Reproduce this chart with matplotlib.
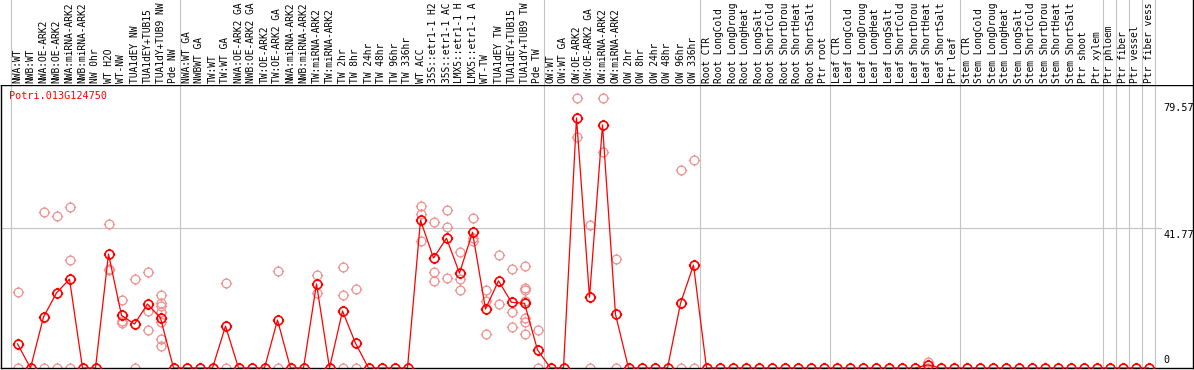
import numpy as np
import matplotlib.pyplot as plt
from matplotlib.path import Path

gene = "Potri.013G124750"

labels = [
    "NWA:WT", "NWB:WT", "NWA:OE-ARK2", "NWB:OE-ARK2", "NWA:miRNA-ARK2", "NWB:miRNA-ARK2",
    "NW 0hr", "WT H2O", "WT-NW", "TUA1dEY NW", "TUA1dEY+TUB15 NW", "TUA1dY+TUB9 NW", "Pde NW",
    "NWA:WT GA", "NWBWT GA", "TW:WT", "TW:WT GA", "NWA:OE-ARK2 GA", "NWB:OE-ARK2 GA",
    "TW:OE-ARK2", "TW:OE-ARK2 GA", "NWA:miRNA-ARK2 GA", "NWB:miRNA-ARK2 GA", "TW:miRNA-ARK2",
    "TW:miRNA-ARK2 GA", "TW 2hr", "TW 8hr", "TW 24hr", "TW 48hr", "TW 96hr", "TW 336hr",
    "WT ACC", "35S::etr1-1 H2O", "35S::etr1-1 ACC", "LMX5::etr1-1 H2O", "LMX5::etr1-1 ACC",
    "WT-TW", "TUA1dEY TW", "TUA1dEY+TUB15 TW", "TUA1dY+TUB9 TW", "Pde TW",
    "OW:WT", "OW:WT GA", "OW:OE-ARK2", "OW:OE-ARK2 GA", "OW:miRNA-ARK2", "OW:miRNA-ARK2 GA",
    "OW 2hr", "OW 8hr", "OW 24hr", "OW 48hr", "OW 96hr", "OW 336hr",
    "Root CTR", "Root LongCold", "Root LongDrought", "Root LongHeat", "Root LongSalt",
    "Root ShortCold", "Root ShortDrought", "Root ShortHeat", "Root ShortSalt", "Ptr root",
    "Leaf CTR", "Leaf LongCold", "Leaf LongDrought", "Leaf LongHeat", "Leaf LongSalt",
    "Leaf ShortCold", "Leaf ShortDrought", "Leaf ShortHeat", "Leaf ShortSalt", "Ptr leaf",
    "Stem CTR", "Stem LongCold", "Stem LongDrought", "Stem LongHeat", "Stem LongSalt",
    "Stem ShortCold", "Stem ShortDrought", "Stem ShortHeat", "Stem ShortSalt", "Ptr shoot",
    "Ptr xylem", "Ptr phloem", "Ptr fiber", "Ptr vessel", "Ptr fiber vessel",
]

means = [
    7.2, 0, 15.2, 22.4, 26.5, 0, 0, 34.0, 15.7, 13.1, 19.1, 14.9, 0,
    0, 0, 0, 12.5, 0, 0, 0, 14.3, 0, 0, 25.1, 0, 17.0, 7.4, 0, 0, 0, 0,
    44.1, 32.8, 38.7, 28.3, 40.5, 17.6, 26.0, 19.6, 19.3, 5.4,
    0, 0, 74.6, 21.1, 72.5, 16.0, 0, 0, 0, 0, 19.3, 30.7,
    0, 0, 0, 0, 0, 0, 0, 0, 0, 0,
    0, 0, 0, 0, 0, 0, 0, 0.9, 0, 0,
    0, 0, 0, 0, 0, 0, 0, 0, 0, 0, 0,
    0, 0, 0, 0,
]

# replicate samples: column index and value
rep_idx = [0, 0, 2, 2, 3, 3, 4, 4, 4, 7, 7, 7, 8, 8, 8, 9, 9, 10, 10, 10,
           11, 11, 11, 11, 11, 11, 11, 16, 16, 20, 20, 23, 23, 25, 25, 25, 26, 26,
           31, 31, 31, 32, 32, 32, 33, 33, 33, 34, 34, 34, 35, 35, 35, 36, 36, 36,
           37, 37, 38, 38, 38, 39, 39, 39, 39, 39, 39, 39, 40, 40,
           43, 43, 44, 44, 45, 45, 46, 46, 51, 51, 52, 52, 70, 70]
rep_val = [22.7, 0, 46.4, 0, 45.3, 0, 48.0, 32.2, 0, 42.9, 29.5, 29.2, 20.2, 14.0, 13.5, 26.6, 0,
           28.6, 17.0, 11.3,
           21.8, 19.3, 18.5, 16.8, 13.8, 8.6, 6.6, 25.3, 0, 28.9, 0, 27.7, 22.4, 30.0, 21.7, 0, 23.6, 0,
           48.3, 45.9, 37.9, 43.5, 28.6, 26.0, 47.0, 42.1, 26.9, 34.5, 26.5, 23.3, 44.7, 38.7, 38.0,
           23.3, 20.0, 10.0, 33.7, 19.1, 29.6, 16.6, 12.2, 30.3, 24.0, 23.3, 20.0, 14.8, 13.8, 10.0,
           11.2, 0,
           80.5, 68.8, 42.6, 0, 80.5, 64.4, 32.4, 0, 59.0, 0, 62.0, 0, 1.9, 0]

ytick_vals = [79.57, 41.77, 0]
group_edges = [-0.5, 12.5, 40.5, 52.5, 62.5, 72.5, 83.5, 84.5, 85.5, 86.5, 87.5]
max_chars = 14  # header only has room for this many characters

# circle marker with small crosshair ticks
ticks = Path([(0, 1), (0, 1.3), (0, -1), (0, -1.3), (1, 0), (1.3, 0), (-1, 0), (-1.3, 0)],
             [Path.MOVETO, Path.LINETO] * 4)
mk = Path.make_compound_path(Path.unit_circle(), ticks)

W, H = 1194, 370
fig = plt.figure(figsize=(W / 100, H / 100), dpi=100)
left_px, right_px, hdr_px, base_px = 1, 1193, 85, 368
pitch, x0_px = 13.0, 17.5
ax = fig.add_axes([left_px / W, (H - base_px) / H, (right_px - left_px) / W, (base_px - hdr_px) / H])
hdr = fig.add_axes([left_px / W, (H - hdr_px) / H, (right_px - left_px) / W, hdr_px / H])

xlim = ((left_px - x0_px) / pitch, (right_px - x0_px) / pitch)
for a in (ax, hdr):
    a.set_xlim(*xlim)
    a.set_xticks([])
    a.set_yticks([])
    for e in group_edges:
        a.axvline(e, color='#c4c4c4', lw=0.8, zorder=0)
ax.set_ylim(0, (base_px - hdr_px) / 3.352)
hdr.set_ylim(0, 1)

for s in ax.spines.values():
    s.set_linewidth(1.0)
    s.set_color('black')
for k in ('left', 'top', 'bottom'):
    hdr.spines[k].set_visible(False)
hdr.spines['right'].set_linewidth(1.0)

ax.axhline(41.77, xmin=0, xmax=(1161 - left_px) / (right_px - left_px), color='#c4c4c4', lw=0.8, zorder=0)

mono = 'DejaVu Sans Mono'
for i, lab in enumerate(labels):
    hdr.text(i, 2 / hdr_px, lab[:max_chars].rstrip(), transform=hdr.get_xaxis_transform(), rotation=90,
             ha='center', va='bottom', fontsize=6.9, family=mono)

ax.plot(rep_idx, rep_val, ls='none', marker=mk, ms=8.2, mfc='none', mec='#f09090', mew=0.9, zorder=2)
ax.plot(range(len(means)), means, color='red', lw=0.9, marker=mk, ms=8.2, mfc='none',
        mec='red', mew=1.2, zorder=3)

ax.annotate(gene, xy=(0, 1), xycoords='axes fraction', xytext=(8, -6), textcoords='offset pixels',
            ha='left', va='top', color='red', fontsize=7.3, family=mono)

lab_x = (1163 - left_px) / (right_px - left_px)
for v in ytick_vals:
    if v == 0:
        ax.annotate('%g' % v, xy=(lab_x, v), xycoords=('axes fraction', 'data'), xytext=(0, 3),
                    textcoords='offset pixels', ha='left', va='bottom', fontsize=7.3, family=mono)
    else:
        ax.annotate('%g' % v, xy=(lab_x, v), xycoords=('axes fraction', 'data'), xytext=(0, -2),
                    textcoords='offset pixels', ha='left', va='top', fontsize=7.3, family=mono)

fig.savefig('out.png', dpi=100)
